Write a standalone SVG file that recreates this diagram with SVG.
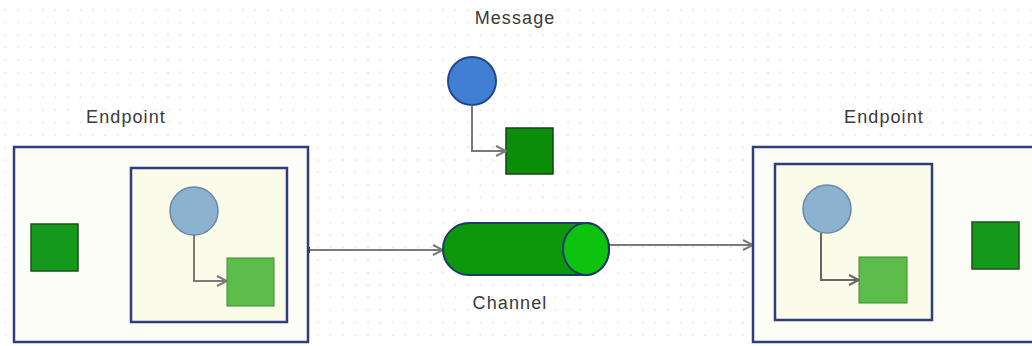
<svg xmlns="http://www.w3.org/2000/svg" width="1032" height="346" viewBox="0 0 1032 346">
<defs>
<pattern id="dots" x="0.5" y="5" width="12.5" height="12.5" patternUnits="userSpaceOnUse">
<circle cx="5" cy="5" r="0.9" fill="#dcdcdc"/>
</pattern>
<marker id="chev" viewBox="0 0 12 12" refX="11" refY="6" markerWidth="12" markerHeight="12" markerUnits="userSpaceOnUse" orient="auto">
<path d="M1,1 L11,6 L1,11" fill="none" stroke="#7a7a7a" stroke-width="2"/>
</marker>
<marker id="chevDark" viewBox="0 0 12 12" refX="11" refY="6" markerWidth="12" markerHeight="12" markerUnits="userSpaceOnUse" orient="auto">
<path d="M1,1 L11,6 L1,11" fill="none" stroke="#666666" stroke-width="2"/>
</marker>
</defs>
<style>
.lbl{font-family:"Liberation Sans",Arial,sans-serif;font-size:18px;letter-spacing:1.1px;fill:#3a3a3a;text-anchor:middle}
.outer{fill:#fdfdf8;stroke:#2e3d7c;stroke-width:2.5}
.inner{fill:#fbfbe9;stroke:#2e3d7c;stroke-width:2.5}
.ghost{fill:#8cb2d0;stroke:#6a88a8;stroke-width:1.5}
.lsq{fill:#5cbd4a;stroke:#3f8a35;stroke-width:1}
.dsq{fill:#14991a;stroke:#1c4f1c;stroke-width:1.5}
.conn{fill:none;stroke:#7a7a7a;stroke-width:2}
</style>
<rect width="1032" height="346" fill="#ffffff"/>
<rect width="1032" height="346" fill="url(#dots)"/>

<g id="connectors">
<path class="conn" d="M308,250 L443,250" marker-end="url(#chev)"/>
<rect x="306" y="247" width="4" height="6" fill="#2e3d7c"/>
<path class="conn" d="M609,245 L753,245" marker-end="url(#chev)"/>
</g>

<g id="endpoint-left">
<text class="lbl" x="126" y="123">Endpoint</text>
<rect class="outer" x="14" y="147" width="294" height="195"/>
<rect class="dsq" x="31" y="224" width="47" height="47"/>
<rect class="inner" x="131" y="168" width="156" height="154"/>
<circle class="ghost" cx="194" cy="211" r="24"/>
<rect class="lsq" x="227" y="258" width="47" height="48"/>
<path class="conn" d="M194,235 L194,281 L227,281" marker-end="url(#chev)"/>
</g>

<g id="message">
<text class="lbl" x="515" y="24">Message</text>
<circle cx="472" cy="81" r="24" fill="#3f80d2" stroke="#24468f" stroke-width="2"/>
<rect x="506" y="128" width="47" height="46" fill="#0b8f0b" stroke="#17401a" stroke-width="1.5"/>
<path class="conn" d="M472,105 L472,151 L506,151" marker-end="url(#chev)"/>
</g>

<g id="channel">
<path d="M469,223 L586,223 A23,26 0 0 1 586,275 L469,275 A26,26 0 0 1 469,223 Z" fill="#0b980b" stroke="#1d3a6b" stroke-width="2"/>
<ellipse cx="586" cy="249" rx="23" ry="26" fill="#0ec30e" stroke="#1d3a6b" stroke-width="2"/>
<text class="lbl" x="510" y="309">Channel</text>
</g>

<g id="endpoint-right">
<text class="lbl" x="884" y="123">Endpoint</text>
<rect class="outer" x="753" y="147" width="290" height="195"/>
<rect class="inner" x="775" y="164" width="157" height="156"/>
<circle class="ghost" cx="827" cy="209" r="24"/>
<rect class="lsq" x="859" y="257" width="48" height="46"/>
<path d="M821,233 L821,280 L859,280" fill="none" stroke="#666666" stroke-width="2" marker-end="url(#chevDark)"/>
<rect class="dsq" x="972" y="222" width="47" height="47"/>
</g>
</svg>
